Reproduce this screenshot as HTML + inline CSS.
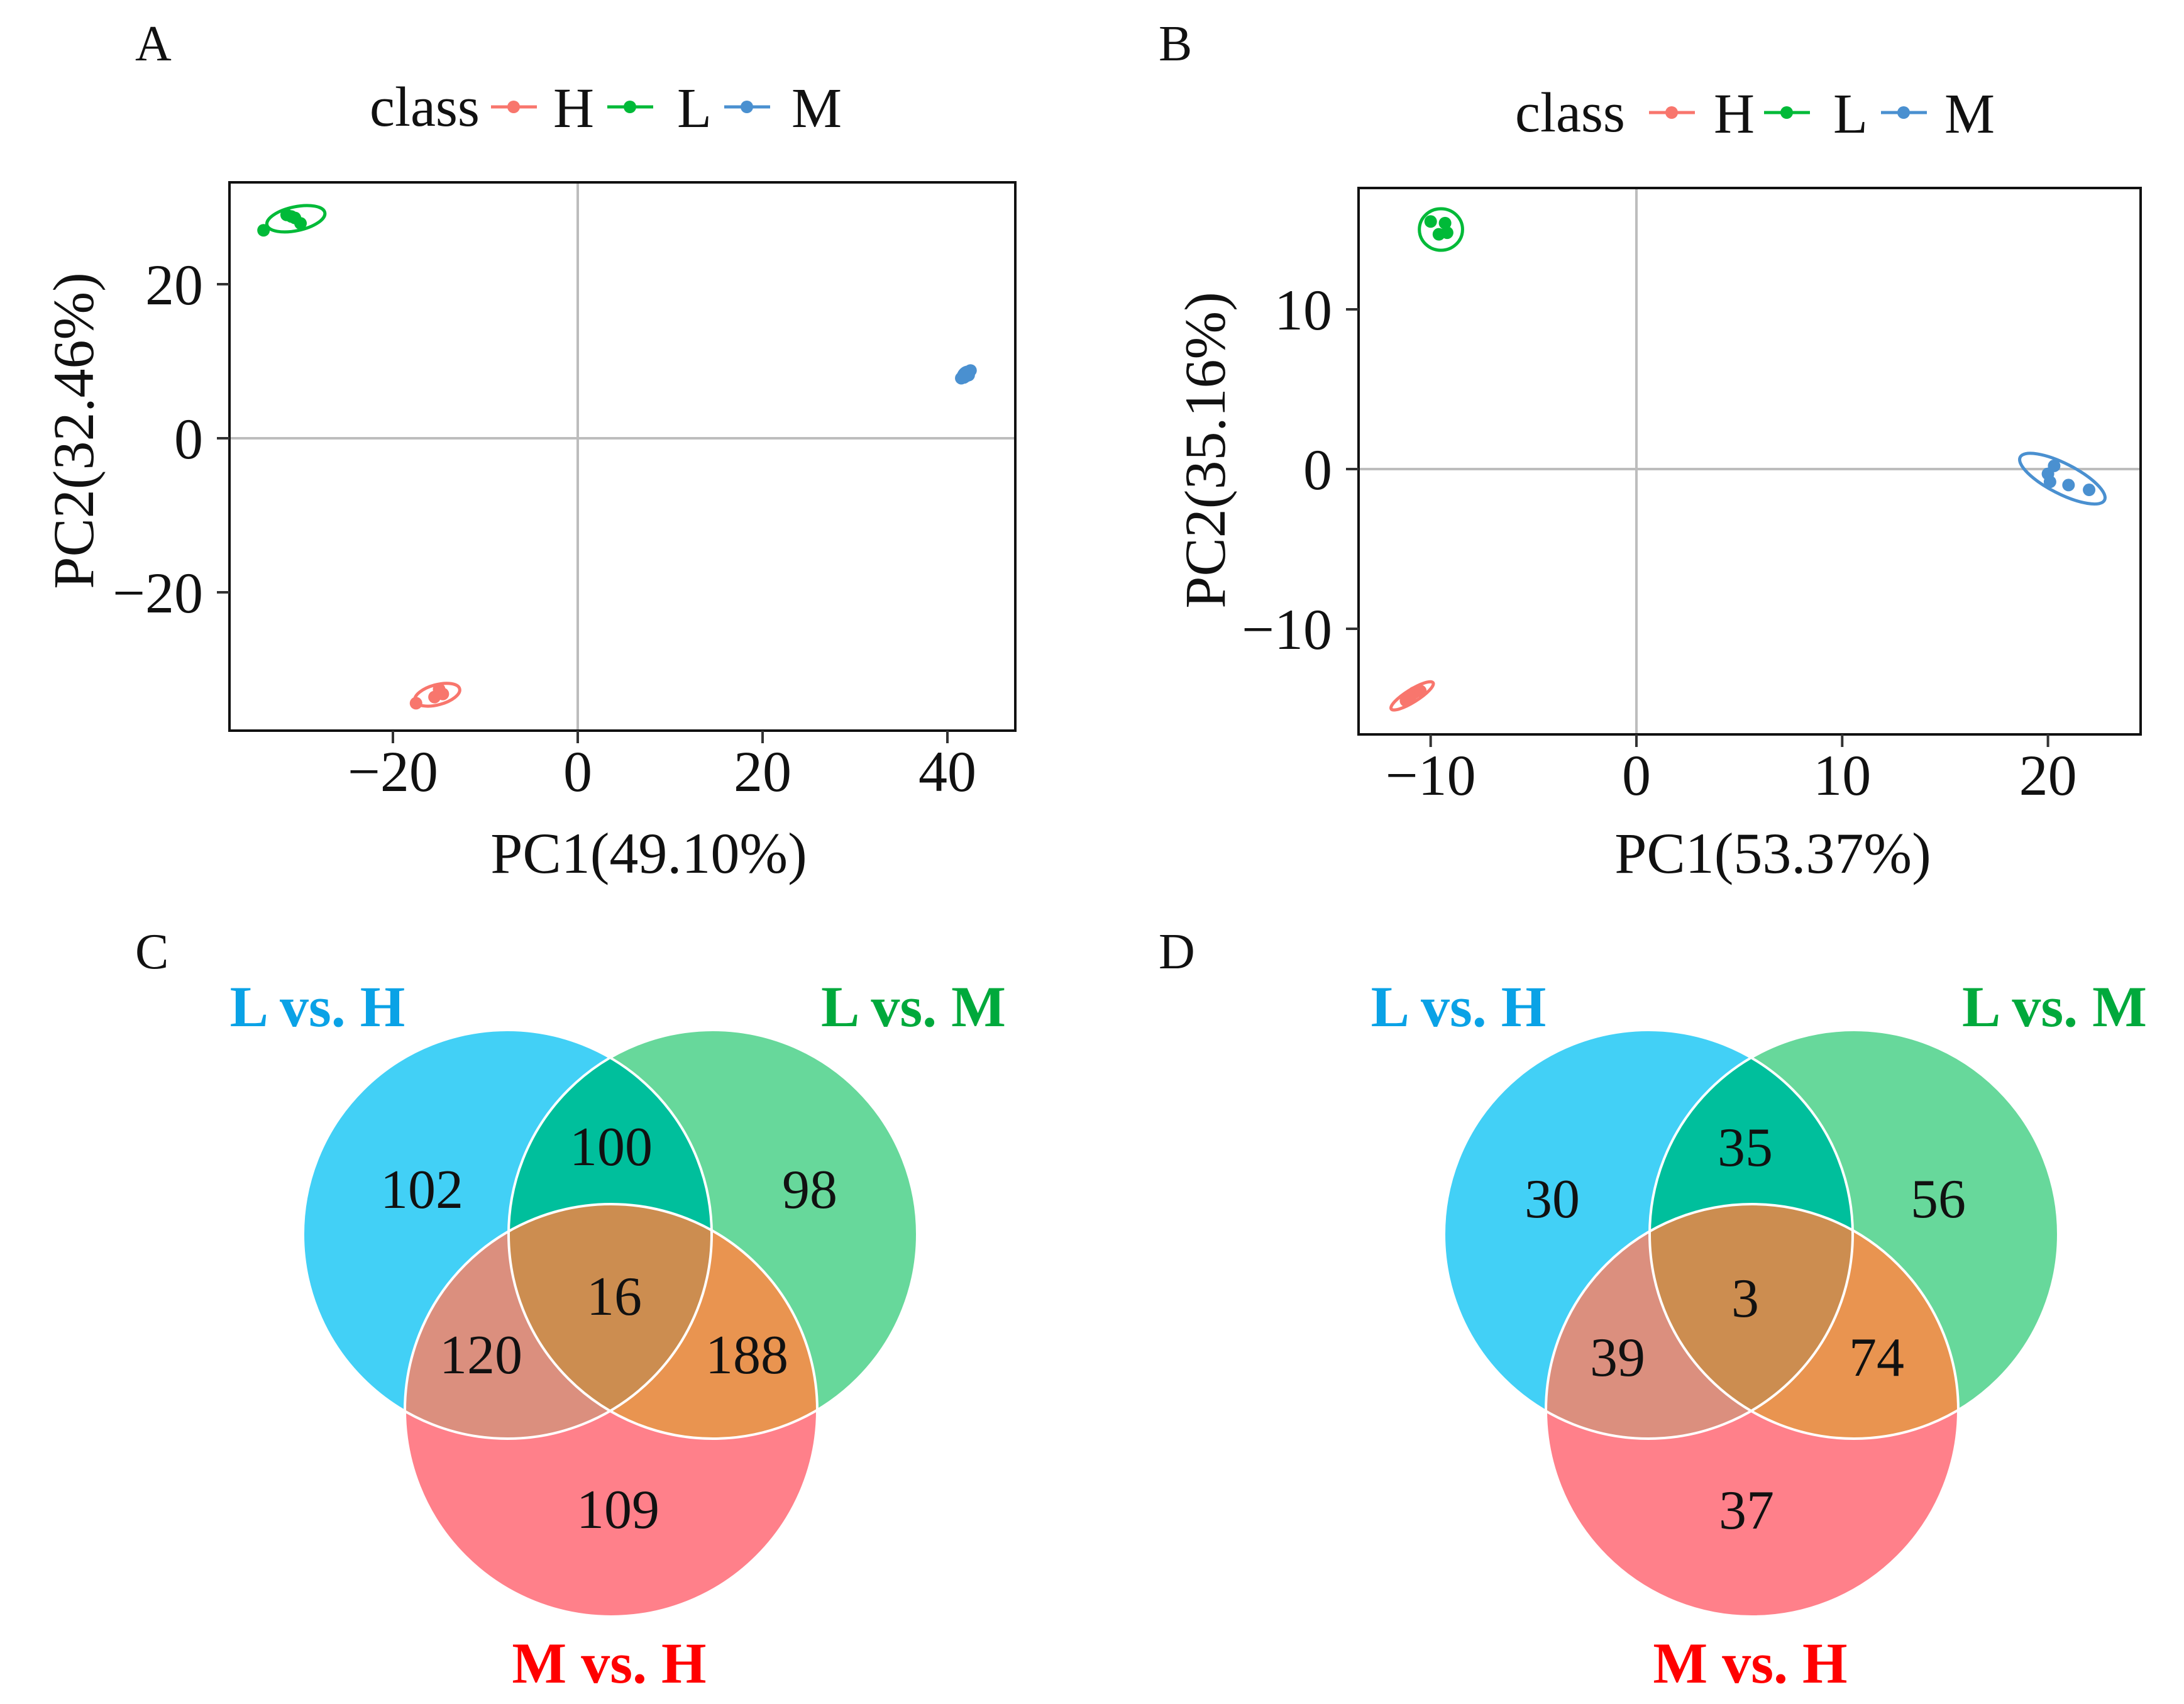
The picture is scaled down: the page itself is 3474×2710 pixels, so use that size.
<!DOCTYPE html>
<html><head><meta charset="utf-8"><style>
html,body{margin:0;padding:0;background:#fff}
svg{display:block}
text{font-family:"Liberation Serif","Times New Roman",serif}
</style></head><body>
<svg id="fig" width="3474" height="2710" viewBox="0 0 3474 2710" xmlns="http://www.w3.org/2000/svg">
<defs>
<clipPath id="cA"><circle cx="807" cy="1963" r="325"/></clipPath>
<clipPath id="cB"><circle cx="1134" cy="1963" r="325"/></clipPath>
<clipPath id="dA"><circle cx="2622" cy="1963" r="325"/></clipPath>
<clipPath id="dB"><circle cx="2949" cy="1963" r="325"/></clipPath>
</defs>
<g id="root"></g>
</svg>
<script>
// ---- Panel A data ----
const aH_x=[-15,-14.6,-17.5,-15.5,-14.9];
const aH_y=[-32.6,-33.2,-34.4,-33.6,-32.9];
const aL_x=[-31.5,-30.6,-30,-31,-34];
const aL_y=[29,28.6,27.9,28.8,27];
const aM_x=[41.5,42,42.5,42.3,41.8];
const aM_y=[7.8,8.3,8.8,8.2,7.9];
const aXticks=[-20,0,20,40];
const aYticks=[20,0,-20];
// ellipses: [cx, cy, rx(data x units), ry(px), angle(deg)]
const aEll_H=[-15.2,-33.3,2.5,16,-15];
const aEll_L=[-30.5,28.5,3.2,19,-12];
const aEll_M=[42,8.3,0.9,10,-40];
// ---- Panel B data ----
const bH_x=[-10.8,-11,-10.5,-11.2];
const bH_y=[-14,-14.3,-13.9,-14.5];
const bL_x=[-10,-9.3,-9.6,-9.2];
const bL_y=[15.5,15.4,14.7,14.8];
const bM_x=[20,20.3,20.1,21,22];
const bM_y=[-0.3,0.2,-0.8,-1,-1.3];
const bXticks=[-10,0,10,20];
const bYticks=[10,0,-10];
const bEll_H=[-10.9,-14.2,1.2,10,-32];
const bEll_L=[-9.5,15,1.05,33,0];
const bEll_M=[20.7,-0.6,2.3,24,27];
// ---- Venn data ----
const vennCats=["L vs. H","L vs. M","M vs. H"];
const vennC=[102,98,109,100,120,188,16]; // A only, B only, C only, AB, AC, BC, ABC
const vennD=[30,56,37,35,39,74,3];

const NS="http://www.w3.org/2000/svg";
const root=document.getElementById('root');
function mk(tag,attrs,parent,txt){const e=document.createElementNS(NS,tag);for(const k in attrs)e.setAttribute(k,attrs[k]);if(txt!==undefined)e.textContent=txt;(parent||root).appendChild(e);return e;}

const COL={H:"#F8766D",L:"#00BA38",M:"#4A90D0"};

function panel(o){
  const g=mk('g',{});
  
  
  const sx=v=>o.x0+(v-o.xv0)*o.kx;
  const sy=v=>o.y0-(v-o.yv0)*o.ky;
  const gv=mk('line',{x1:sx(0),x2:sx(0),y1:o.top,y2:o.bot,stroke:"#bdbdbd","stroke-width":4},g);
  
  
  const gh=mk('line',{x1:o.left,x2:o.right,y1:sy(0),y2:sy(0),stroke:"#bdbdbd","stroke-width":4},g);
  
  
  const series=[["H",o.H_x,o.H_y,o.eH],["L",o.L_x,o.L_y,o.eL],["M",o.M_x,o.M_y,o.eM]];
  series.forEach(([k,xs,ys,e])=>{
    const sg=mk('g',{},g);
    
    
    const cx=sx(e[0]),cy=sy(e[1]);
    const el=mk('ellipse',{cx:cx,cy:cy,rx:e[2]*o.kx,ry:e[3],transform:`rotate(${e[4]} ${cx} ${cy})`,fill:"none",stroke:COL[k],"stroke-width":5},sg);
    
    
    xs.forEach((x,i)=>{
      const p=mk('circle',{cx:sx(x),cy:sy(ys[i]),r:10,fill:COL[k]},sg);
      
      
    });
  });
  const bx=mk('rect',{x:o.left,y:o.top,width:o.right-o.left,height:o.bot-o.top,fill:"none",stroke:"#111","stroke-width":4},g);
  
  
  o.xt.forEach(v=>{
    const t=mk('line',{x1:sx(v),x2:sx(v),y1:o.bot,y2:o.bot+20,stroke:"#333","stroke-width":4},g);
    
    
    const l=mk('text',{x:sx(v),y:o.bot+96,"font-size":92,"text-anchor":"middle",fill:"#111"},g,String(v).replace('-','\u2212'));
    
    
  });
  o.yt.forEach(v=>{
    const t=mk('line',{x1:o.left-20,x2:o.left,y1:sy(v),y2:sy(v),stroke:"#333","stroke-width":4},g);
    
    
    const l=mk('text',{x:o.left-42,y:sy(v)+32,"font-size":92,"text-anchor":"end",fill:"#111"},g,String(v).replace('-','\u2212'));
    
    
  });
  const xt=mk('text',{x:o.xtX,y:1388,"font-size":92,"text-anchor":"middle",fill:"#111"},g,o.xtitle);
  
  
  const yt=mk('text',{x:0,y:0,"font-size":92,"text-anchor":"middle",fill:"#111",transform:`translate(${o.ytX},${o.ytY}) rotate(-90)`},g,o.ytitle);
  
  
  const pl=mk('text',{x:o.labX,y:96,"font-size":80,fill:"#111"},g,o.label);
  
  
  const lg=mk('g',{},g);
  
  
  const lt=mk('text',{x:o.leg.classX,y:o.leg.y+30,"font-size":90,fill:"#111"},lg,"class");
  
  
  ["H","L","M"].forEach((k,i)=>{
    const kx=o.leg.keys[i];
    const e=mk('g',{},lg);
    
    
    mk('line',{x1:kx,x2:kx+73,y1:o.leg.y,y2:o.leg.y,stroke:COL[k],"stroke-width":5},e);
    mk('circle',{cx:kx+36,cy:o.leg.y,r:10,fill:COL[k]},e);
    mk('text',{x:o.leg.texts[i],y:o.leg.y+32,"font-size":90,fill:"#111"},e,k);
  });
}

panel({name:'panel-a-pca',left:365,right:1615,top:290,bot:1162,x0:919,xv0:0,kx:14.7,y0:697,yv0:0,ky:12.25,
  H_x:aH_x,H_y:aH_y,L_x:aL_x,L_y:aL_y,M_x:aM_x,M_y:aM_y,eH:aEll_H,eL:aEll_L,eM:aEll_M,
  xt:aXticks,yt:aYticks,xtitle:"PC1(49.10%)",xtX:1032,ytitle:"PC2(32.46%)",ytX:148,ytY:685,label:"A",labX:215,
  leg:{y:170,classX:588,keys:[781,966,1152],texts:[880,1077,1259]}});
panel({name:'panel-b-pca',left:2161,right:3405,top:299,bot:1168,x0:2603,xv0:0,kx:32.73,y0:746,yv0:0,ky:25.4,
  H_x:bH_x,H_y:bH_y,L_x:bL_x,L_y:bL_y,M_x:bM_x,M_y:bM_y,eH:bEll_H,eL:bEll_L,eM:bEll_M,
  xt:bXticks,yt:bYticks,xtitle:"PC1(53.37%)",xtX:2820,ytitle:"PC2(35.16%)",ytX:1948,ytY:716,label:"B",labX:1843,
  leg:{y:179,classX:2410,keys:[2623,2806,2992],texts:[2726,2916,3093]}});

function venn(dx,vals,cl,label,name,P){
  const g=mk('g',{});
  
  
  const A={cx:807+dx,cy:1963,r:325},B={cx:1134+dx,cy:1963,r:325},C={cx:972+dx,cy:2243,r:328};
  const circ=(c,fill,p,nm)=>{const e=mk('circle',{cx:c.cx,cy:c.cy,r:c.r,fill:fill},p);return e;};
  circ(A,"#42D0F6",g,'set-l-vs-h');
  circ(B,"#67D89B",g,'set-l-vs-m');
  circ(C,"#FF808A",g,'set-m-vs-h');
  const gAB=mk('g',{'clip-path':`url(#${cl}A)`},g); circ(B,"#00BF9C",gAB,'region-lh-lm');
  const gAC=mk('g',{'clip-path':`url(#${cl}A)`},g); circ(C,"#DB8F7E",gAC,'region-lh-mh');
  const gBC=mk('g',{'clip-path':`url(#${cl}B)`},g); circ(C,"#E99450",gBC,'region-lm-mh');
  const gABC=mk('g',{'clip-path':`url(#${cl}A)`},g); const gABC2=mk('g',{'clip-path':`url(#${cl}B)`},gABC); circ(C,"#CC8D50",gABC2,'region-all');
  [A,B,C].forEach(c=>mk('circle',{cx:c.cx,cy:c.cy,r:c.r,fill:"none",stroke:"#fff","stroke-width":4},g));
  vals.forEach((v,i)=>{
    const t=mk('text',{x:P[i][0],y:P[i][1]+31,"font-size":88,"text-anchor":"middle",fill:"#111"},g,String(v));
    
    
  });
  const tc=["#0AA2E6","#00A93C","#FF0000"];
  const tp=[[505,1632],[1453,1632],[969,2676]];
  vennCats.forEach((c,i)=>{
    const t=mk('text',{x:tp[i][0]+dx,y:tp[i][1],"font-size":92,"font-weight":"bold","text-anchor":"middle",fill:tc[i]},g,c);
    
    
  });
  const pl=mk('text',{x:215+(dx?1628:0),y:1540,"font-size":80,fill:"#111"},g,label);
  
  
}
venn(0,vennC,'c','C','panel-c-venn',[[671,1890],[1288,1890],[983,2399],[972,1822],[765,2153],[1188,2153],[977,2060]]);
venn(1815,vennD,'d','D','panel-d-venn',[[2469,1905],[3083,1905],[2778,2400],[2776,1823],[2573,2157],[2985,2157],[2776,2063]]);
</script>
</body></html>
